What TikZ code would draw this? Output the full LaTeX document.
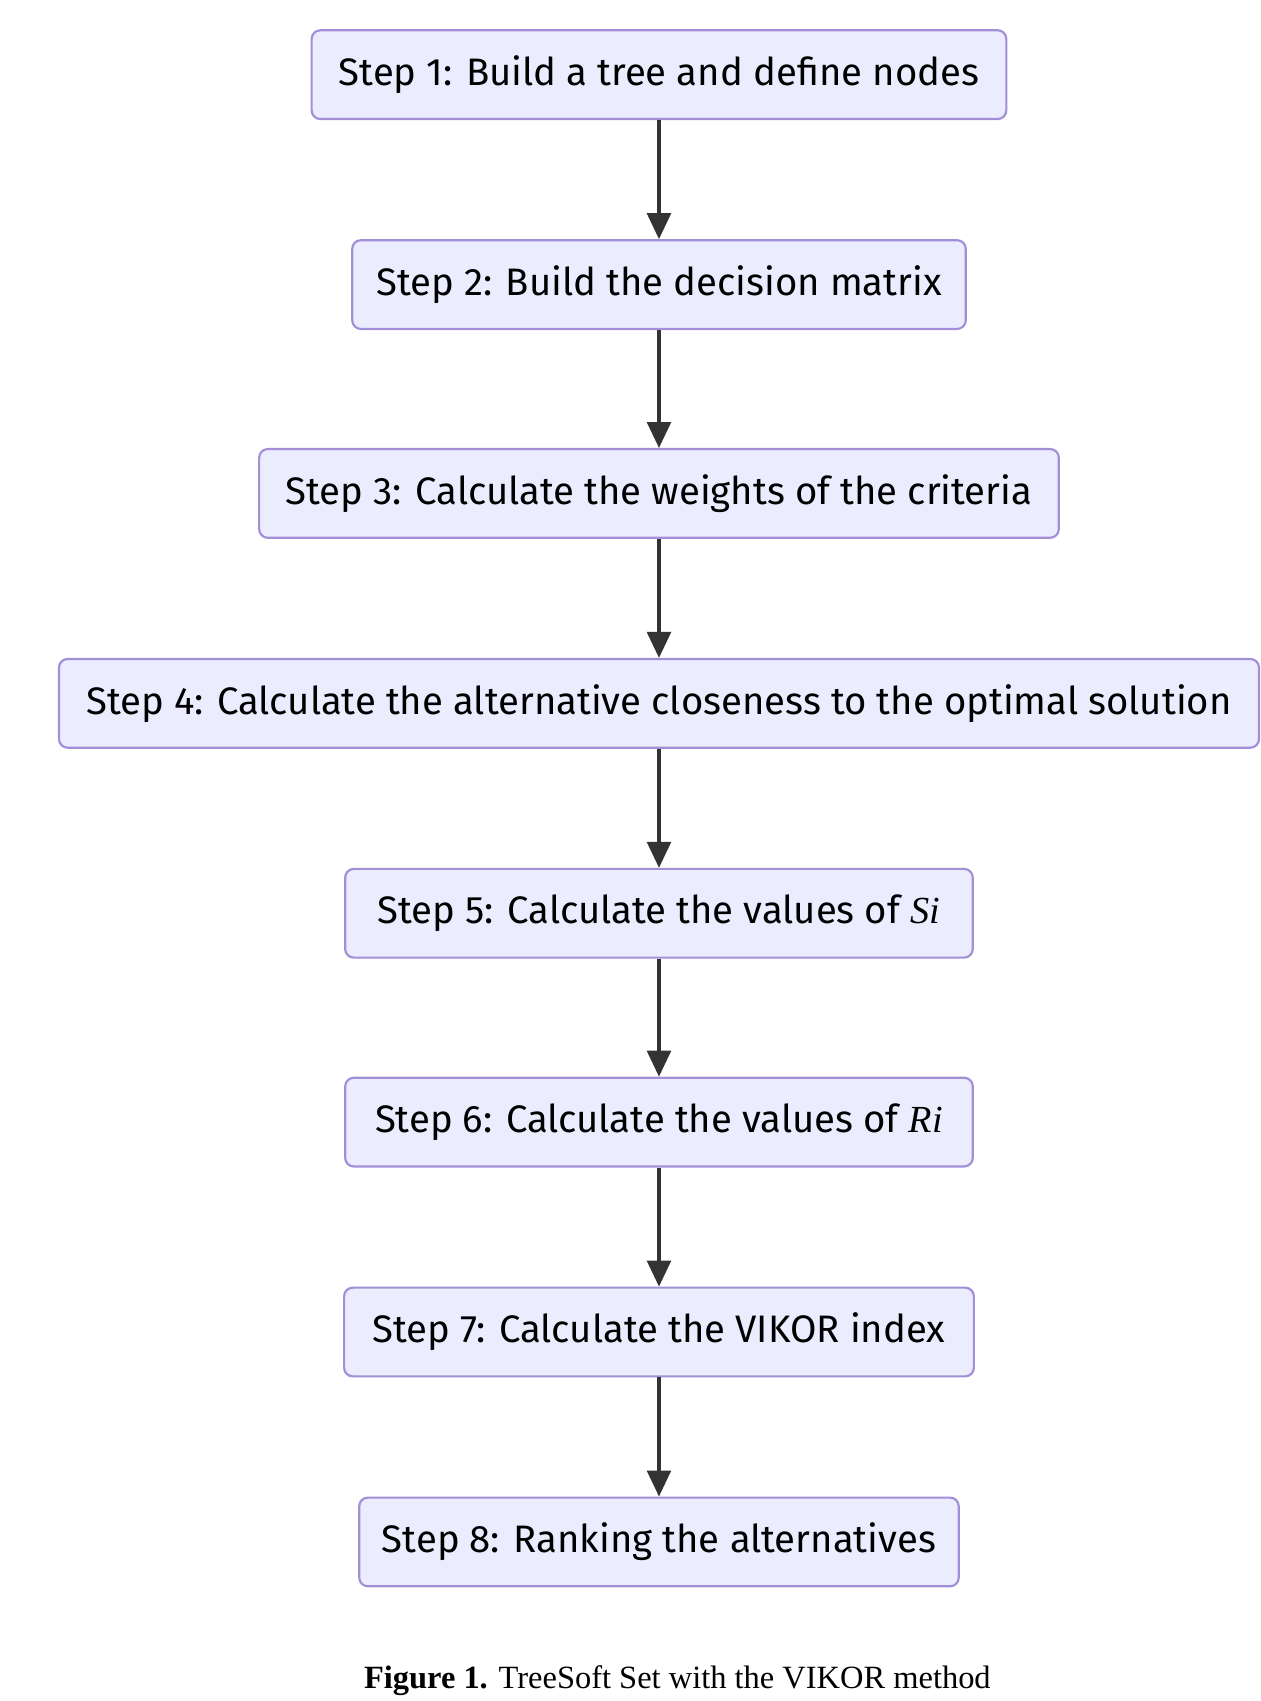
\documentclass[tikz,border=0pt]{standalone}
\usepackage{fontspec}
\setmainfont{Liberation Serif}
\newfontfamily\boxfont{Fira Sans}
\usetikzlibrary{arrows.meta}
\definecolor{boxfill}{HTML}{ECECFF}
\definecolor{boxline}{HTML}{A28FD8}
\definecolor{arrowcol}{HTML}{333333}
\begin{document}
\begin{tikzpicture}[x=0.5pt,y=-0.5pt,>={Triangle[length=12pt,width=11pt]}]
\tikzset{stepbox/.style={draw=boxline,fill=boxfill,line width=1pt,rounded corners=4pt,inner sep=0pt,minimum height=41pt,font=\boxfont\fontsize{17.7}{19}\selectfont},
flow/.style={->,line width=1.5pt,draw=arrowcol,color=arrowcol}}
\useasboundingbox (0,0) rectangle (1165,1572);
\node[stepbox,minimum width=321pt] (s1) at (609,69) {Step 1: Build a tree and define nodes};
\node[stepbox,minimum width=283.5pt] (s2) at (609,263) {Step 2: Build the decision matrix};
\node[stepbox,minimum width=369.5pt] (s3) at (609,456) {Step 3: Calculate the weights of the criteria};
\node[stepbox,minimum width=554.5pt] (s4) at (609,650) {Step 4: Calculate the alternative closeness to the optimal solution};
\node[stepbox,minimum width=290pt] (s5) at (609,844) {Step 5: Calculate the values of $\mathit{Si}$};
\node[stepbox,minimum width=290pt] (s6) at (609,1037) {Step 6: Calculate the values of $\mathit{Ri}$};
\node[stepbox,minimum width=291pt] (s7) at (609,1231) {Step 7: Calculate the VIKOR index};
\node[stepbox,minimum width=277pt] (s8) at (609,1425) {Step 8: Ranking the alternatives};
\foreach \a/\b in {s1/s2,s2/s3,s3/s4,s4/s5,s5/s6,s6/s7,s7/s8}
  \draw[flow] (\a.south) -- (\b.north);
\node[font=\fontsize{15}{17}\selectfont] (cap) at (626,1553) {\textbf{Figure 1.} TreeSoft Set with the VIKOR method};
\end{tikzpicture}
\end{document}
